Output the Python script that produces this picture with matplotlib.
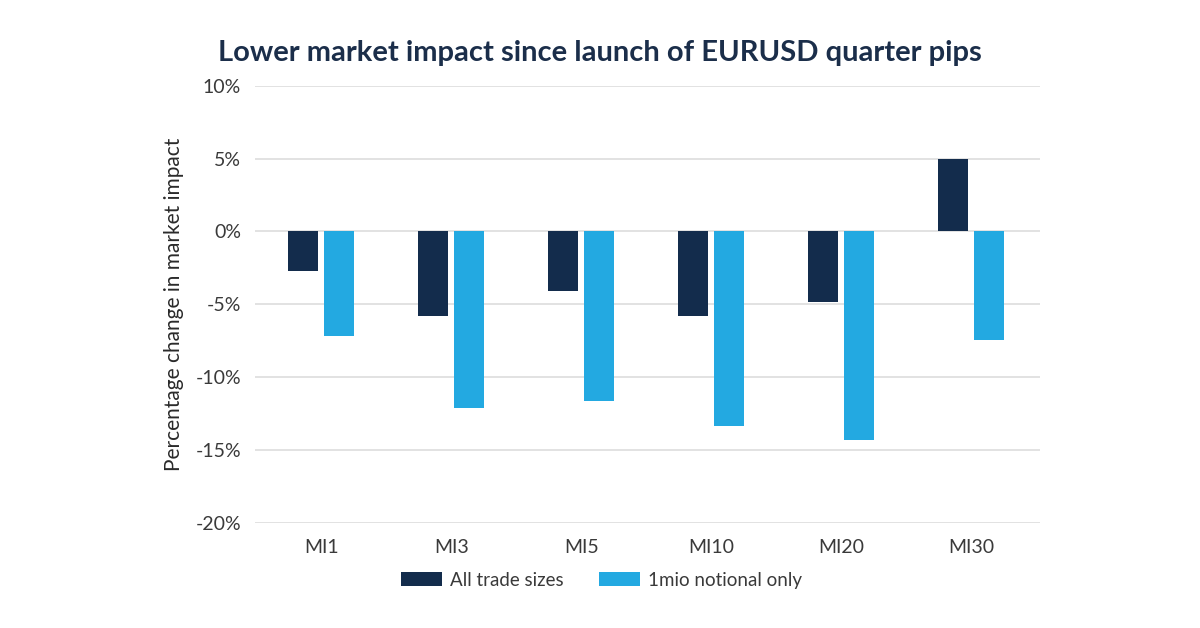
import matplotlib
matplotlib.use("Agg")
import matplotlib.pyplot as plt
import numpy as np
from matplotlib.patches import Patch

categories = ["MI1", "MI3", "MI5", "MI10", "MI20", "MI30"]
all_trade_sizes = [-2.7, -5.8, -4.1, -5.8, -4.85, 4.95]
one_mio_notional = [-7.2, -12.15, -11.65, -13.35, -14.3, -7.45]
series_names = ["All trade sizes", "1mio notional only"]
yticks = [10, 5, 0, -5, -10, -15, -20]

dark = "#132C4C"
light = "#23A9E1"
title_col = "#1B2E4A"
text_col = "#3a3a3a"

plt.rcParams['font.family'] = ['Lato', 'DejaVu Sans']

fig = plt.figure(figsize=(12, 6.28), dpi=100)
ax = fig.add_axes([0.2125, 0.1677, 0.8667 - 0.2125, 0.8635 - 0.1677])

x = np.arange(len(categories))
w = 0.23
off = 0.138
ax.bar(x - off, all_trade_sizes, width=w, color=dark, zorder=3)
ax.bar(x + off, one_mio_notional, width=w, color=light, zorder=3)

ax.set_ylim(-20, 10)
ax.set_xlim(-0.51, 5.53)
ax.set_yticks(yticks)
ax.set_yticklabels([f"{v}%" for v in yticks])
ax.set_xticks(x)
ax.set_xticklabels(categories)
ax.yaxis.grid(True, color="#dddddd", linewidth=1.2, zorder=0)
ax.set_axisbelow(True)
for s in ax.spines.values():
    s.set_visible(False)
ax.tick_params(axis="both", length=0, labelsize=14, colors=text_col)
ax.tick_params(axis="x", pad=12)
ax.tick_params(axis="y", pad=10)
ax.set_ylabel("Percentage change in market impact", fontsize=15, color="#2a2a2a", labelpad=8)

fig.text(0.5, 0.915, "Lower market impact since launch of EURUSD quarter pips",
         ha="center", va="center", fontsize=21, fontweight="bold", color=title_col)

handles = [Patch(facecolor=dark, label=series_names[0]),
           Patch(facecolor=light, label=series_names[1])]
fig.legend(handles=handles, loc="center", bbox_to_anchor=(0.501, 0.076), ncol=2,
           frameon=False, fontsize=13.5, handlelength=2.2, handleheight=0.75,
           columnspacing=1.9, handletextpad=0.4, labelcolor=text_col)

fig.savefig("out.png", dpi=100, facecolor="white")
